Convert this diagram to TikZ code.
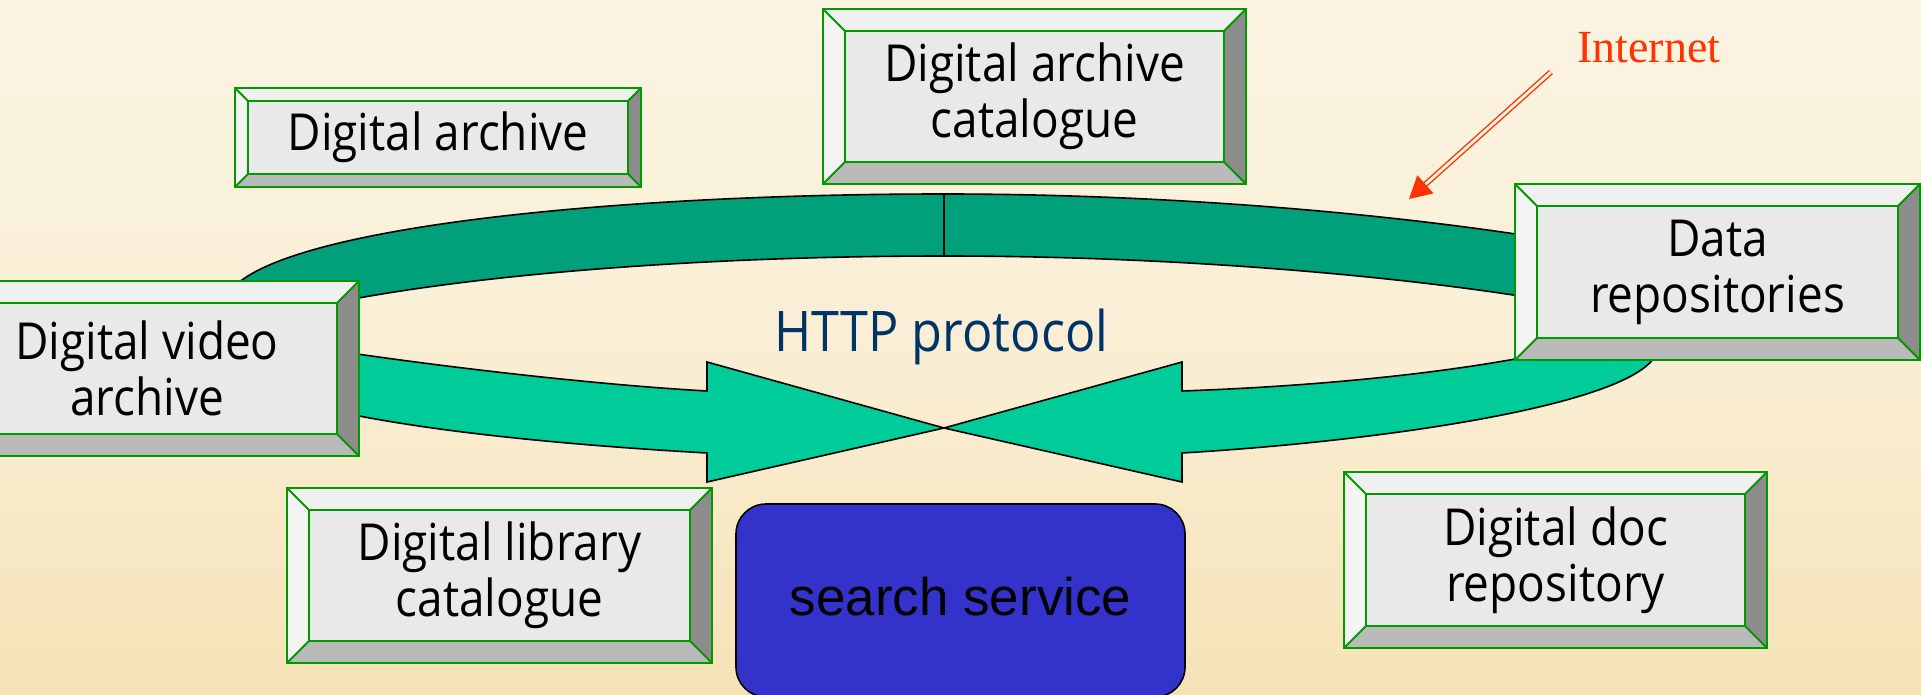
\documentclass[tikz,border=0pt]{standalone}
\usepackage{fontspec}
\newfontfamily\boxfont[FakeStretch=0.9]{Open Sans}
\newfontfamily\serfont{Liberation Serif}
\newfontfamily\arialfont{Liberation Sans}
\usetikzlibrary{arrows.meta}
\begin{document}
\begin{tikzpicture}[x=1pt,y=-1pt,line join=miter]
\useasboundingbox (0,0) rectangle (1921,695);
\clip (0,0) rectangle (1921,695);
\definecolor{custcol_bg_top}{RGB}{251, 244, 226}
\definecolor{custcol_bg_bot}{RGB}{246, 226, 182}
\definecolor{custcol_ring_dark}{RGB}{0, 161, 122}
\definecolor{custcol_ring_light}{RGB}{0, 204, 153}
\definecolor{custcol_edge}{RGB}{0, 153, 0}
\definecolor{custcol_face}{RGB}{233, 233, 233}
\definecolor{custcol_bev_top}{RGB}{240, 240, 240}
\definecolor{custcol_bev_left}{RGB}{244, 244, 244}
\definecolor{custcol_bev_bot}{RGB}{186, 186, 186}
\definecolor{custcol_bev_right}{RGB}{140, 140, 140}
\definecolor{custcol_search}{RGB}{51, 51, 204}
\definecolor{custcol_http}{RGB}{0, 51, 102}
\definecolor{custcol_net}{RGB}{255, 51, 0}
\tikzset{
  ringpart/.style={draw=black, line width=1.6pt},
  boxface/.style={fill=custcol_face, draw=custcol_edge, line width=2pt, inner sep=0, align=center,
    font=\boxfont\fontsize{51}{56}\selectfont},
  boxedge/.style={draw=custcol_edge, line width=2pt},
  searchbox/.style={fill=custcol_search, draw=black, line width=1.6pt, rounded corners=30pt,
    font=\arialfont\fontsize{53}{53}\selectfont, text height=38pt, text depth=8pt},
  netarrow/.style={draw=custcol_net, line width=1.4pt, double=custcol_bg_top, double distance=2.8pt,
    -{Triangle[length=22pt,width=24pt]}}
}
% name, x1, y1, x2, y2, bevel, text
\def\bevelbox#1#2#3#4#5#6#7{%
  \fill[custcol_bev_top] (#2,#3) -- (#4,#3) -- ({#4-#6},{#3+#6}) -- ({#2+#6},{#3+#6}) -- cycle;
  \fill[custcol_bev_left] (#2,#3) -- ({#2+#6},{#3+#6}) -- ({#2+#6},{#5-#6}) -- (#2,#5) -- cycle;
  \fill[custcol_bev_bot] (#2,#5) -- ({#2+#6},{#5-#6}) -- ({#4-#6},{#5-#6}) -- (#4,#5) -- cycle;
  \fill[custcol_bev_right] (#4,#3) -- (#4,#5) -- ({#4-#6},{#5-#6}) -- ({#4-#6},{#3+#6}) -- cycle;
  \draw[boxedge] (#2,#3) -- ({#2+#6},{#3+#6}) (#4,#3) -- ({#4-#6},{#3+#6})
    (#2,#5) -- ({#2+#6},{#5-#6}) (#4,#5) -- ({#4-#6},{#5-#6});
  \draw[boxedge] (#2,#3) rectangle (#4,#5);
  \node[boxface, minimum width={#4-#2-2*#6}, minimum height={#5-#3-2*#6}] (#1)
    at ({(#2+#4)/2},{(#3+#5)/2}) {#7};
}
% background
\shade[top color=custcol_bg_top, bottom color=custcol_bg_bot, middle color=custcol_bg_top!70!custcol_bg_bot]
  (0,0) rectangle (1921,695);
% ring
\fill[custcol_ring_dark] (225,300) .. controls (250,230) and (600,194) .. (944,194)
  .. controls (1250,194) and (1550,230) .. (1700,270) -- (1600,310)
  .. controls (1450,280) and (1200,256) .. (944,256)
  .. controls (700,256) and (450,275) .. (300,310) -- cycle;
\draw[ringpart] (225,300) .. controls (250,230) and (600,194) .. (944,194)
  .. controls (1250,194) and (1550,230) .. (1700,270);
\draw[ringpart] (1600,310) .. controls (1450,280) and (1200,256) .. (944,256)
  .. controls (700,256) and (450,275) .. (300,310);
\draw[ringpart] (944,194) -- (944,256);
\filldraw[ringpart, fill=custcol_ring_light] (330,350) .. controls (450,368) and (600,385) .. (707,391)
  -- (707,362) -- (944,428) -- (707,482) -- (707,453)
  .. controls (550,444) and (420,430) .. (330,410) -- cycle;
\filldraw[ringpart, fill=custcol_ring_light] (1182,391) .. controls (1350,385) and (1480,368) .. (1560,350)
  -- (1658,345) .. controls (1662,400) and (1400,440) .. (1182,453)
  -- (1182,482) -- (944,428) -- (1182,362) -- cycle;
% boxes
\bevelbox{darch}{235}{88}{641}{187}{13}{Digital archive}
\bevelbox{dcat}{823}{9}{1246}{184}{22}{Digital archive\\catalogue}
\bevelbox{drepo}{1515}{184}{1920}{360}{22}{Data\\repositories}
\bevelbox{dvideo}{-65}{281}{359}{456}{22}{Digital video\\archive}
\bevelbox{dlib}{287}{488}{712}{663}{22}{Digital library\\catalogue}
\bevelbox{ddoc}{1344}{472}{1767}{648}{22}{Digital doc\\repository}
\node[searchbox, minimum width=449pt, minimum height=193pt] (search) at (960.5,600.5) {search service};
% labels
\node[anchor=base, text=custcol_http, font=\boxfont\fontsize{56}{56}\selectfont] (http) at (941.5,351) {HTTP protocol};
\node[anchor=base west, inner sep=0, text=custcol_net, font=\serfont\fontsize{46}{46}\selectfont] (inet) at (1577,63) {Internet};
\coordinate (inettail) at (1551,72);
\coordinate (inettip) at (1409,199);
\draw[netarrow] (inettail) -- (inettip);
\end{tikzpicture}
\end{document}
